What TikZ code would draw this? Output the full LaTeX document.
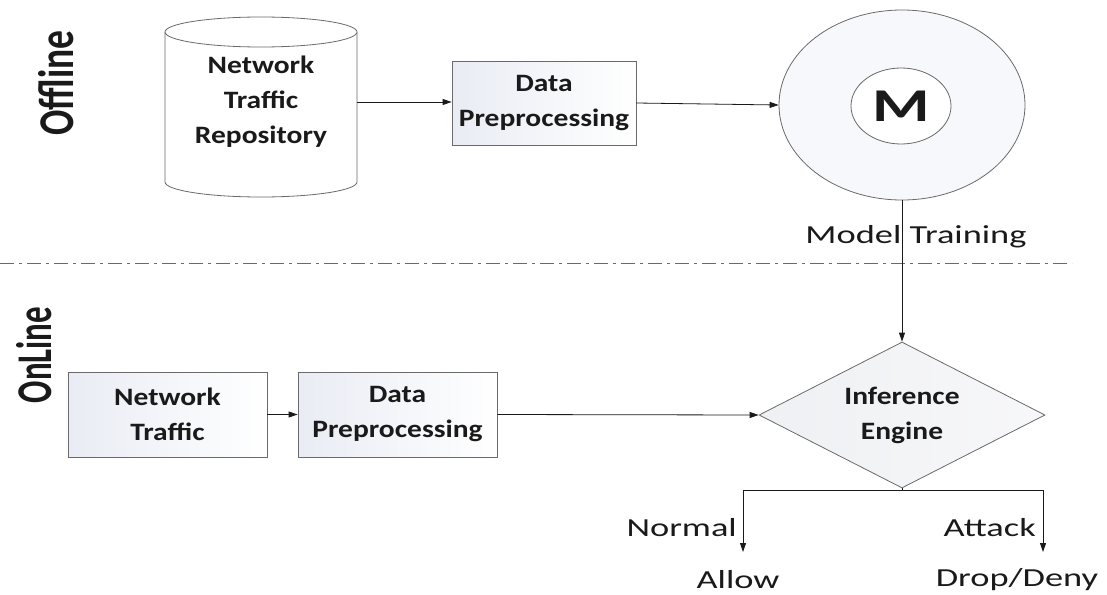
\documentclass[tikz,border=0pt]{standalone}
\usepackage{fontspec}
\usetikzlibrary{arrows.meta,shapes.geometric}
\newfontfamily\wfont[FakeStretch=1.4]{Carlito}
\newfontfamily\bfont[FakeStretch=1.18]{Carlito}
\newfontfamily\sidefont[FakeStretch=0.75]{Carlito}
\newfontfamily\sidefontb[FakeStretch=0.66]{Carlito}
\definecolor{edge}{HTML}{6A6A6A}
\definecolor{ink}{HTML}{1A1A1A}
\definecolor{tint}{HTML}{E9ECF4}
\definecolor{ctint}{HTML}{F7F8FB}
\definecolor{dtint}{HTML}{EFF0F3}
\tikzset{
  boxtext/.style={font=\bfont\bfseries\fontsize{25}{35}\selectfont, align=center, text=ink},
  plaintext/.style={font=\wfont\fontsize{26}{32}\selectfont, text=ink, inner sep=0pt},
  stagebox/.style={draw=edge, line width=0.8pt, rectangle, left color=tint, right color=white,
                   minimum height=85pt, inner sep=0pt, boxtext},
  flow/.style={draw=ink, line width=0.8pt, -{Triangle[length=9pt,width=6pt]}},
  sidelabel/.style={rotate=90, text=ink}
}
\begin{document}
\begin{tikzpicture}[x=1pt,y=1pt]
\useasboundingbox (0,0) rectangle (1107,-594);

% phase labels
\node[sidelabel, font=\sidefont\bfseries\fontsize{50}{55}\selectfont] (off) at (56,-83) {Offline};
\node[sidelabel, font=\sidefontb\bfseries\fontsize{50}{55}\selectfont] (on) at (34,-355) {OnLine};

% repository cylinder
\draw[edge, line width=0.8pt, fill=white]
  (165,-32) -- (165,-182) arc[start angle=180, end angle=360, x radius=96, y radius=15]
  -- (357,-32);
\draw[edge, line width=0.8pt, fill=white] (261,-32) ellipse[x radius=96, y radius=15];
\node[boxtext, minimum width=192pt, minimum height=100pt, inner sep=0pt] (repo) at (261,-102)
  {Network\\Traffic\\Repository};

% offline preprocessing
\node[stagebox, minimum width=184pt, minimum height=84pt] (dp1) at (544,-103) {Data\\Preprocessing};

% model
\node[ellipse, draw=edge, line width=0.8pt, fill=ctint,
      minimum width=246pt, minimum height=190pt, inner sep=0pt] (model) at (902,-105) {};
\node[ellipse, draw=edge, line width=0.8pt, fill=white, minimum width=100pt, minimum height=76pt,
      inner sep=0pt, font=\wfont\bfseries\fontsize{47}{50}\selectfont, text=ink] (mi) at (901,-106) {M};

\node[plaintext] (train) at (916,-237) {Model Training};

% separator between phases
\coordinate (sepl) at (0,-263);
\coordinate (sepr) at (1072,-263);
\draw[edge, line width=0.8pt, dash pattern=on 14pt off 5pt on 3pt off 5pt] (sepl) -- (sepr);

% online chain
\node[stagebox, minimum width=199pt] (nt) at (167.5,-414.5) {Network\\Traffic};
\node[stagebox, minimum width=199pt] (dp2) at (397.5,-414.5) {Data\\Preprocessing};
\node[diamond, draw=edge, line width=0.8pt, left color=dtint, right color=white!50!dtint,
      aspect=1.96, minimum width=286pt, minimum height=146pt, inner sep=0pt, boxtext]
      (ie) at (902,-415) {Inference\\Engine};

% decisions
\node[plaintext, anchor=east] (normal) at (737,-528) {Normal};
\node[plaintext, anchor=east] (attack) at (1036,-528) {Attack};
\node[plaintext] (allow) at (738,-580) {Allow};
\node[plaintext] (deny) at (1017,-580) {Drop/Deny};
\coordinate (br) at (902,-490);
\coordinate (nend) at (743,-552);
\coordinate (aend) at (1043,-552);

% connectors
\draw[flow] (repo.east) -- (repo.east -| dp1.west);
\draw[flow] (dp1.east) -- (model.west);
\draw[flow] (model.south) -- (ie.north);
\draw[flow] (nt.east) -- (dp2.west);
\draw[flow] (dp2.east) -- (ie.west);
\draw[draw=ink, line width=0.8pt] (ie.south) -- (br);
\draw[flow] (br) -| (nend);
\draw[flow] (br) -| (aend);
\end{tikzpicture}
\end{document}
